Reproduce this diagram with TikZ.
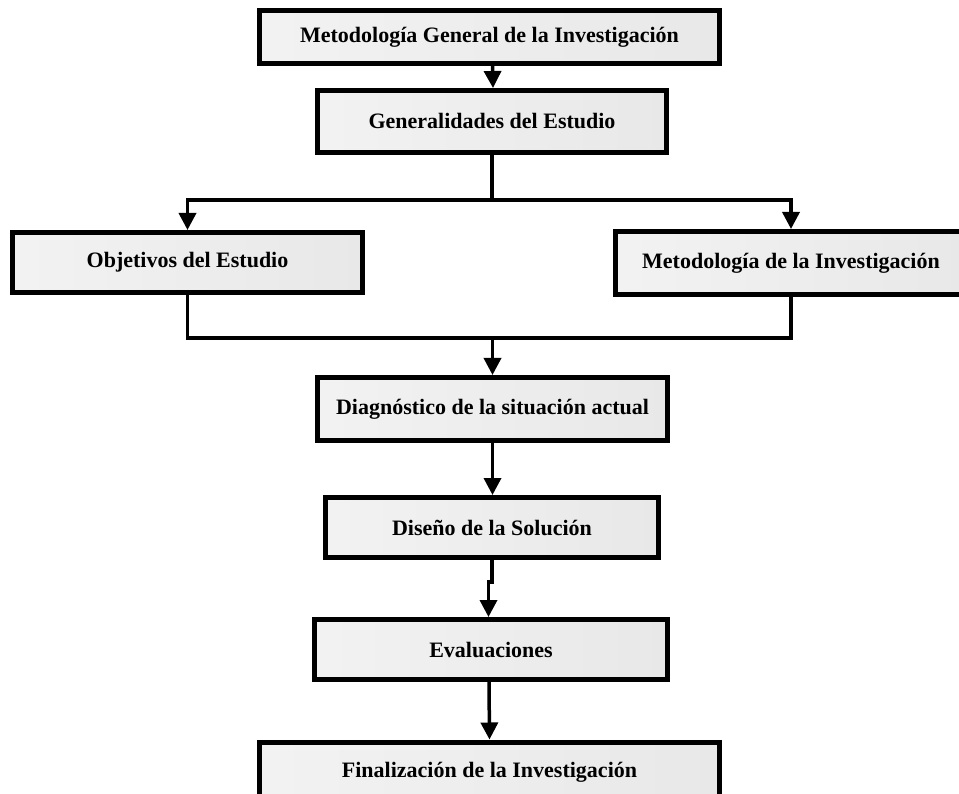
\documentclass[tikz,border=0pt]{standalone}
\usepackage{fontspec}
\setmainfont{Liberation Serif}
\usetikzlibrary{arrows.meta,shadows}
\begin{document}
\begin{tikzpicture}[x=1pt,y=1pt,
  stepbox/.style={draw=black, line width=5pt, rectangle,
    left color=black!5, right color=black!9,
    inner sep=0pt, align=center,
    font=\fontsize{22}{24}\selectfont\bfseries, text=black,
    drop shadow={shadow xshift=1pt, shadow yshift=-2.5pt, opacity=0.35, fill=black!60}},
  link/.style={line width=3.5pt},
  arrow/.style={link, -{Triangle[width=17pt,length=17pt]}}]
\clip (0,0) rectangle (959,-794);
\fill[white] (0,0) rectangle (959,-794);

% process steps
\node[stepbox, minimum width=460pt, minimum height=53pt] (gen0) at (489.5,-37)
  {Metodología General de la Investigación};
\node[stepbox, minimum width=349pt, minimum height=62pt] (gen) at (492,-121.5)
  {Generalidades del Estudio};
\node[stepbox, minimum width=350pt, minimum height=60pt] (obj) at (187.5,-262.5)
  {Objetivos del Estudio};
\node[stepbox, minimum width=351pt, minimum height=63pt] (mdi) at (791,-263)
  {Metodología de la Investigación};
\node[stepbox, minimum width=350pt, minimum height=63pt] (dia) at (492.5,-409)
  {Diagnóstico de la situación actual};
\node[stepbox, minimum width=333pt, minimum height=60pt] (dis) at (492,-527.5)
  {Diseño de la Solución};
\node[stepbox, minimum width=353pt, minimum height=60pt] (eva) at (491,-649.5)
  {Evaluaciones};
\node[stepbox, minimum width=460pt, minimum height=60pt] (fin) at (489.5,-772)
  {Finalización de la Investigación};

% connectors
\draw[arrow] ([xshift=3pt]gen0.south) -- ([xshift=1pt]gen.north);
\draw[link] (gen.south) -- ++(0,-45) coordinate (split);
\draw[arrow] (split) -| (obj.north);
\draw[arrow] (split) -| (mdi.north);
\draw[link] (obj.south) -- ++(0,-43) -| (mdi.south);
\coordinate (merge) at (492.5,-338);
\draw[arrow] (merge) -- (dia.north);
\draw[arrow] (dia.south) -- (dia.south |- dis.north);
\draw[arrow] (dis.south) -- ++(0,-22) -| ([xshift=-2.5pt]eva.north);
\draw[arrow] ([xshift=-2pt]eva.south) -- (fin.north);
\end{tikzpicture}
\end{document}
